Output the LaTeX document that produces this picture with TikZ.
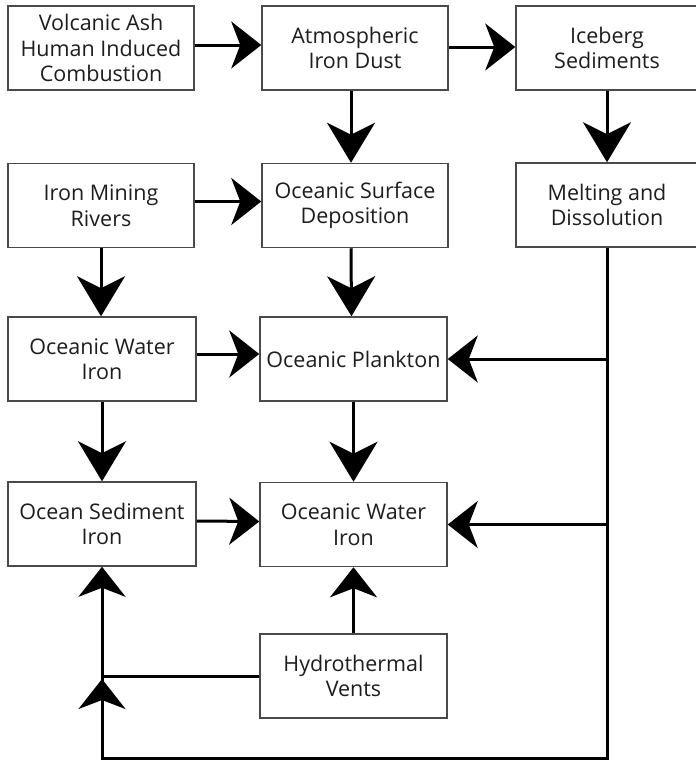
\documentclass[tikz,border=0pt]{standalone}
\usepackage{fontspec}
\setmainfont{Open Sans}
\usetikzlibrary{arrows.meta}
\definecolor{boxline}{HTML}{4A4A4A}
\definecolor{txt}{HTML}{1E1E1E}
\begin{document}
\begin{tikzpicture}[x=1pt,y=-1pt,
  box/.style={draw=boxline, line width=1.5pt, fill=white, minimum width=186pt,
    minimum height=84pt, inner sep=0pt, align=center, text=txt,
    font=\fontsize{21.5}{25.5}\selectfont},
  arr/.style={line width=3pt, -{Stealth[length=30pt, width=47pt, inset=9pt]}},
  darr/.style={line width=3pt, -{Stealth[length=40pt, width=48pt, inset=12pt]}},
  wire/.style={line width=3pt}]
\useasboundingbox (0,0) rectangle (696,763);
\fill[white] (0,0) rectangle (696,763);

% top row
\node[box] (volc) at (101,48) {Volcanic Ash\\Human Induced\\Combustion};
\node[box] (atmo) at (355,48) {Atmospheric\\Iron Dust};
\node[box, minimum width=182pt] (ice) at (607,48) {Iceberg\\Sediments};

% second row
\node[box] (mine) at (101,205.5) {Iron Mining\\Rivers};
\node[box] (surf) at (355,205.5) {Oceanic Surface\\Deposition};
\node[box, minimum width=182pt] (melt) at (607,205) {Melting and\\Dissolution};

% third row
\node[box, minimum width=188pt] (wat1) at (102,359) {Oceanic Water\\Iron};
\node[box, minimum width=187pt] (plank) at (353.5,359) {Oceanic Plankton};

% fourth row
\node[box, minimum width=188pt] (sed) at (102,524) {Ocean Sediment\\Iron};
\node[box, minimum width=187pt] (wat2) at (353.5,524.5) {Oceanic Water\\Iron};

% bottom
\node[box, minimum width=187pt] (vent) at (353.5,676) {Hydrothermal\\Vents};

\coordinate (loopR) at (607,758);

% horizontal flows
\draw[arr] ([yshift=3pt]volc.east) -- ([yshift=3pt]atmo.west);
\draw[arr] ([yshift=1pt]atmo.east) -- ([yshift=1pt]ice.west);
\draw[arr] ([yshift=4pt]mine.east) -- ([yshift=4pt]surf.west);
\draw[arr] ([yshift=5pt]wat1.east) -- ([yshift=5pt]plank.west);
\draw[arr] ([yshift=3pt]sed.east) -- ([yshift=3pt]wat2.west);

% vertical flows
\draw[darr] ([xshift=-4pt]atmo.south) -- ([xshift=-4pt]surf.north);
\draw[darr] (ice.south) -- (melt.south |- ice.south) -- (melt.north);
\draw[darr] ([xshift=-4pt]surf.south) -- ([xshift=-2pt]plank.north);
\draw[darr] (mine.south) -- (mine.south |- wat1.north);
\draw[darr] (wat1.south) -- (sed.north);
\draw[darr] (plank.south) -- (wat2.north);
\draw[arr] (vent.north) -- (wat2.south);

% melt-water return line
\draw[wire] (melt.south) -- (loopR) -| (sed.south |- vent.west);
\draw[arr] (sed.south |- loopR) -- ([yshift=-3pt]sed.south |- vent.west);
\draw[arr] (melt.south |- plank.east) -- (plank.east);
\draw[arr] (melt.south |- wat2.east) -- (wat2.east);

% hydrothermal supply to sediments
\draw[arr] (vent.west) -| (sed.south);
\end{tikzpicture}
\end{document}
